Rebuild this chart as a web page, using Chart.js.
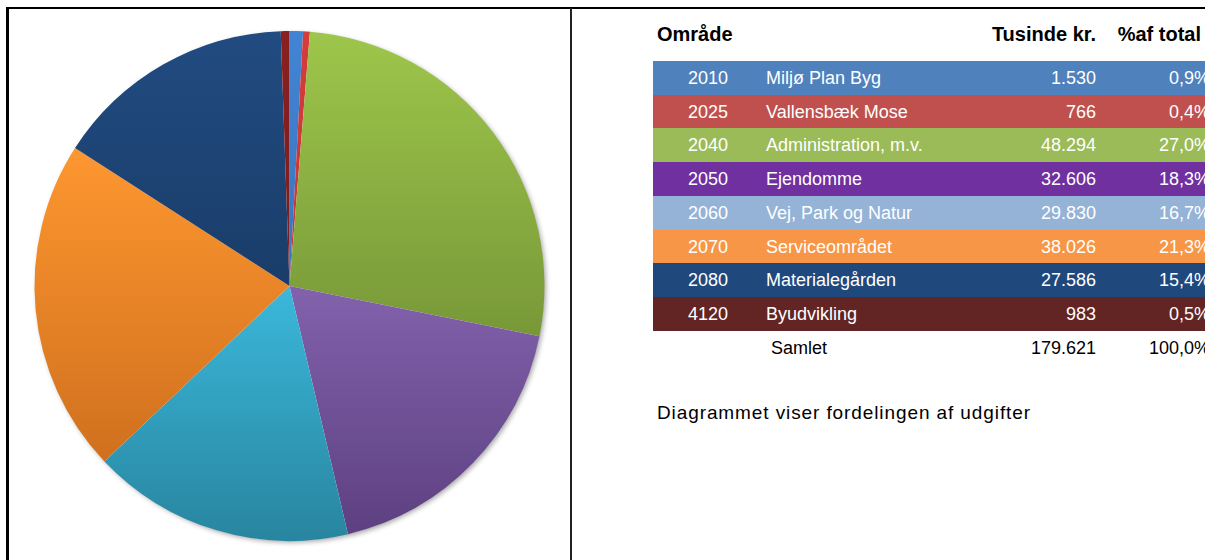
<!DOCTYPE html>
<html>
<head>
<meta charset="utf-8">
<script src="https://cdn.jsdelivr.net/npm/chart.js@4"></script>
<style>
    html, body { margin: 0; padding: 0; width: 1205px; height: 560px; overflow: hidden; background: #fff; }
    body { position: relative; font-family: "Liberation Sans", Arial, sans-serif; }
    #frame { position: absolute; left: 6px; top: 7px; width: 1205px; height: 560px; border-left: 3px solid #000; border-top: 2px solid #000; }
    #divider { position: absolute; left: 570px; top: 8px; width: 2px; height: 560px; background: #222; }
    #chartBox { position: absolute; left: 9px; top: 9px; width: 561px; height: 554px; }
    #tableBox { position: absolute; left: 653px; top: 0; width: 600px; }
    .hdr { position: absolute; top: 23px; font-weight: bold; font-size: 20px; color: #000; white-space: nowrap; }
    .row { position: absolute; left: 0; width: 600px; height: 34px; color: #fff; font-size: 18px; }
    .row span, .total span { position: absolute; top: 7px; white-space: nowrap; }
    .total { position: absolute; left: 0; width: 600px; height: 34px; color: #000; font-size: 18px; }
    #note { position: absolute; left: 657px; top: 402px; font-size: 19px; letter-spacing: 0.9px; white-space: nowrap; }
</style>
</head>
<body>
<div id="frame"></div>
<div id="chartBox"><canvas id="pieChart"></canvas></div>
<div id="divider"></div>
<div id="tableBox"></div>
<div id="note">Diagrammet viser fordelingen af udgifter</div>

<script>
// Data fra tabellen
const codes = ['2010', '2025', '2040', '2050', '2060', '2070', '2080', '4120'];
const areas = ['Miljø Plan Byg', 'Vallensbæk Mose', 'Administration, m.v.', 'Ejendomme', 'Vej, Park og Natur', 'Serviceområdet', 'Materialegården', 'Byudvikling'];
const amounts = [1530, 766, 48294, 32606, 29830, 38026, 27586, 983];
const percents = ['0,9%', '0,4%', '27,0%', '18,3%', '16,7%', '21,3%', '15,4%', '0,5%'];
const totalAmount = 179621;
const totalPercent = '100,0%';

// Farver
const rowColors = ['#4F81BD', '#C0504D', '#9BBB59', '#7030A0', '#95B3D7', '#F79646', '#1F497D', '#632523'];
const pieTop = ['#4284D4', '#D53C3A', '#9EC64B', '#8262AC', '#3BB8DB', '#FE9730', '#214B81', '#8A2020'];
const pieBottom = ['#3A74BC', '#C0383A', '#789838', '#5D4081', '#28859F', '#D0701E', '#1A3D69', '#7A1C1C'];

function formatDk(n) {
    return n.toString().replace(/\B(?=(\d{3})+(?!\d))/g, '.');
}

// Byg tabellen
function buildTable() {
    const box = document.getElementById('tableBox');
    let html = '';
    html += '<div class="hdr" style="left:4px">Område</div>';
    html += '<div class="hdr" style="right:' + (600 - 443) + 'px">Tusinde kr.</div>';
    html += '<div class="hdr" style="right:' + (600 - 548) + 'px">%af total</div>';
    const rowTop = 61;
    const rowH = 33.7;
    for (let i = 0; i < codes.length; i++) {
        const top = rowTop + i * rowH;
        html += '<div class="row" style="top:' + top + 'px;background:' + rowColors[i] + '">' +
            '<span style="left:35px">' + codes[i] + '</span>' +
            '<span style="left:113px">' + areas[i] + '</span>' +
            '<span style="right:' + (600 - 443) + 'px">' + formatDk(amounts[i]) + '</span>' +
            '<span style="right:' + (600 - 557) + 'px">' + percents[i] + '</span>' +
            '</div>';
    }
    const tTop = rowTop + codes.length * rowH;
    html += '<div class="total" style="top:' + tTop + 'px">' +
        '<span style="left:118px">Samlet</span>' +
        '<span style="right:' + (600 - 443) + 'px">' + formatDk(totalAmount) + '</span>' +
        '<span style="right:' + (600 - 557) + 'px">' + totalPercent + '</span>' +
        '</div>';
    box.innerHTML = html;
}

// Skygge bag lagkagen
const shadowPlugin = {
    id: 'pieShadow',
    beforeDatasetsDraw(chart) {
        const arc = chart.getDatasetMeta(0).data[0];
        if (!arc) return;
        const ctx = chart.ctx;
        ctx.save();
        ctx.shadowColor = 'rgba(0,0,0,0.35)';
        ctx.shadowBlur = 5;
        ctx.shadowOffsetX = 2;
        ctx.shadowOffsetY = 2;
        ctx.fillStyle = '#fff';
        ctx.beginPath();
        ctx.arc(arc.x, arc.y, arc.outerRadius - 0.5, 0, Math.PI * 2);
        ctx.fill();
        ctx.restore();
    }
};

// Lodret gradient inden for hvert stykkes egen ramme
function sliceGradient(context) {
    const chart = context.chart;
    const area = chart.chartArea;
    const i = context.dataIndex;
    if (!area) return pieTop[i];
    const cx = (area.left + area.right) / 2;
    const cy = (area.top + area.bottom) / 2;
    const r = Math.min(area.right - area.left, area.bottom - area.top) / 2;
    const total = amounts.reduce((a, b) => a + b, 0);
    let start = -Math.PI / 2;
    for (let k = 0; k < i; k++) start += amounts[k] / total * Math.PI * 2;
    const end = start + amounts[i] / total * Math.PI * 2;
    const ys = [cy, cy + r * Math.sin(start), cy + r * Math.sin(end)];
    if (start <= Math.PI / 2 && end >= Math.PI / 2) ys.push(cy + r);
    if (start <= -Math.PI / 2 + 1e-9 || (start <= 1.5 * Math.PI && end >= 1.5 * Math.PI)) ys.push(cy - r);
    const y0 = Math.min(...ys);
    const y1 = Math.max(...ys);
    const g = chart.ctx.createLinearGradient(0, y0, 0, Math.max(y1, y0 + 1));
    g.addColorStop(0, pieTop[i]);
    g.addColorStop(1, pieBottom[i]);
    return g;
}

function renderPieChart() {
    const ctx = document.getElementById('pieChart').getContext('2d');
    new Chart(ctx, {
        type: 'pie',
        data: {
            labels: areas,
            datasets: [{
                data: amounts,
                backgroundColor: sliceGradient,
                borderWidth: 0
            }]
        },
        options: {
            responsive: true,
            maintainAspectRatio: false,
            animation: false,
            layout: { padding: { top: 22, bottom: 22, left: 25, right: 25 } },
            plugins: {
                legend: { display: false },
                tooltip: { enabled: false }
            }
        },
        plugins: [shadowPlugin]
    });
}

buildTable();
renderPieChart();
</script>
</body>
</html>
